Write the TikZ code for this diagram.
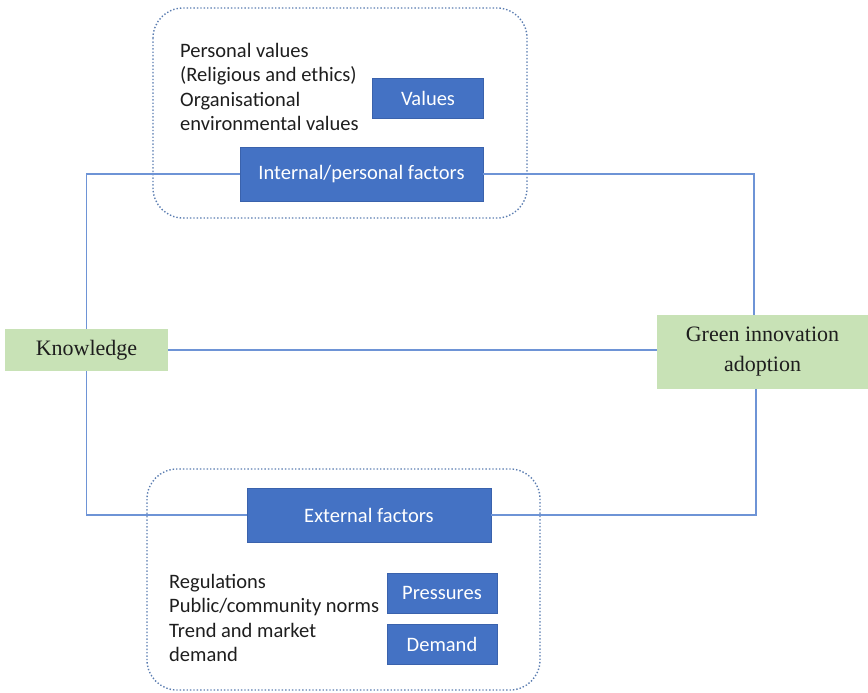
\documentclass[tikz,border=0pt]{standalone}
\usepackage{fontspec}
\setmainfont{Carlito}
\newfontfamily\serifface{Liberation Serif}
\usetikzlibrary{calc}
\definecolor{boxblue}{HTML}{4472C4}
\definecolor{boxedge}{HTML}{3A62AC}
\definecolor{linkblue}{HTML}{6E94D6}
\definecolor{groupedge}{HTML}{5A7CB0}
\definecolor{leafgreen}{HTML}{C8E2B6}
\definecolor{inktext}{HTML}{1E1E1E}
\tikzset{
  factorbox/.style={draw=boxedge, line width=0.8pt, fill=boxblue, text=white,
    inner sep=0pt, font=\fontsize{20.5}{24}\selectfont},
  endbox/.style={fill=leafgreen, text=inktext, inner sep=0pt, align=center,
    font=\serifface\fontsize{22}{30}\selectfont},
  group/.style={draw=groupedge, line width=1.4pt, dotted, rounded corners=30pt},
  link/.style={draw=linkblue, line width=1.5pt},
  itemlist/.style={anchor=north west, align=left, text=inktext, inner sep=0pt,
    font=\fontsize{20.5}{24.5}\selectfont},
}
\begin{document}
\begin{tikzpicture}[x=1pt, y=-1pt]
  \useasboundingbox (0,0) rectangle (868,693);

  % dotted groupings
  \draw[group] (153,8) rectangle (527,218);
  \draw[group] (147,469) rectangle (540,690);

  % end nodes
  \node[endbox, minimum width=163pt, minimum height=42pt] (know) at (86.5,350) {Knowledge};
  \node[endbox, minimum width=211pt, minimum height=74pt] (green) at (762.5,352) {Green innovation\\adoption};

  % factor boxes
  \node[factorbox, minimum width=243pt, minimum height=54pt] (int) at (361.5,174) {Internal/personal factors};
  \node[factorbox, minimum width=111pt, minimum height=40pt] (val) at (428,98) {Values};
  \node[factorbox, minimum width=244pt, minimum height=54pt] (ext) at (369,515) {External factors};
  \node[factorbox, minimum width=110pt, minimum height=40pt] (pres) at (442,593) {Pressures};
  \node[factorbox, minimum width=110pt, minimum height=40pt] (dem) at (442,644) {Demand};

  % item lists
  \node[itemlist] (vallist) at (180,43) {Personal values\\(Religious and ethics)\\Organisational\\environmental values};
  \node[itemlist] (extlist) at (169,574) {Regulations\\Public/community norms\\Trend and market\\demand};

  % connectors
  \coordinate (rtop) at ($(green.north)+(-8.5,0)$);
  \coordinate (rbot) at ($(green.south)+(-6.5,0)$);
  \draw[link] (know.north) |- (int.west);
  \draw[link] (int.east) -| (rtop);
  \draw[link] (know.south) |- (ext.west);
  \draw[link] (ext.east) -| (rbot);
  \draw[link] (know.east) -- (know.east -| green.west);
\end{tikzpicture}
\end{document}
